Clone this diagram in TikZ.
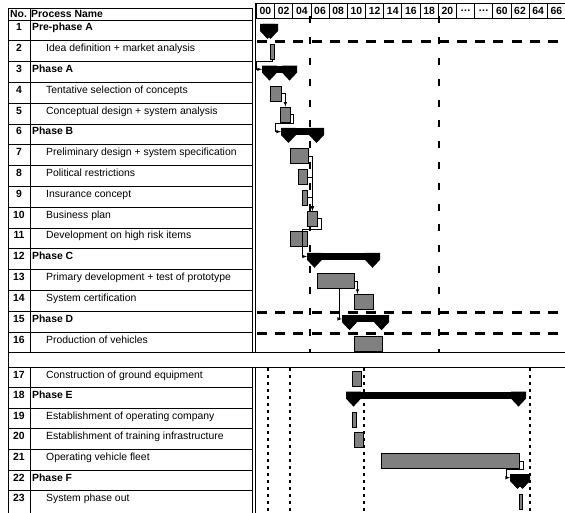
\documentclass[tikz,border=0pt]{standalone}
\usepackage{fontspec}
\setmainfont{Liberation Sans}
\newcommand{\phasebar}[4]{%
  \node[sumbar,minimum width={#3-#2}] (#1) at (#2,#4) {};
  \fill (#2,#4) -- ++(15,0) -- ++(0,7) -- ++(-7.5,8) -- ++(-7.5,-8) -- cycle;
  \fill (#3,#4) -- ++(-15,0) -- ++(0,7) -- ++(7.5,8) -- ++(7.5,-8) -- cycle;
}

\begin{document}
\begin{tikzpicture}[x=1pt,y=-1pt,
  grid/.style={line width=0.9pt},
  num/.style={anchor=base,font=\bfseries,inner sep=0pt},
  phase/.style={anchor=base west,font=\bfseries,inner sep=0pt},
  task/.style={anchor=base west,inner sep=0pt},
  hcell/.style={draw,line width=0.8pt,minimum width=18.18pt,minimum height=15pt,inner sep=0pt,anchor=north west,font=\bfseries},
  bar/.style={draw,fill=gray,line width=0.8pt,minimum height=15pt,inner sep=0pt,anchor=north west},
  sumbar/.style={fill=black,minimum height=7pt,inner sep=0pt,anchor=north west},
  link/.style={line width=0.6pt,-latex},
  limit/.style={line width=2.5pt}]
\fontsize{10.4}{12}\selectfont
\useasboundingbox (0,0) rectangle (565,513);

\draw[grid] (8,8) -- (252.5,8) (8,20) -- (252.5,20) (8,40.8) -- (252.5,40.8) (8,61.6) -- (252.5,61.6)
  (8,82.4) -- (252.5,82.4) (8,103.2) -- (252.5,103.2) (8,124) -- (252.5,124) (8,144.8) -- (252.5,144.8)
  (8,165.6) -- (252.5,165.6) (8,186.4) -- (252.5,186.4) (8,207.2) -- (252.5,207.2) (8,228) -- (252.5,228)
  (8,248.8) -- (252.5,248.8) (8,269.6) -- (252.5,269.6) (8,290.4) -- (252.5,290.4) (8,311.2) -- (252.5,311.2)
  (8,332) -- (252.5,332);
\draw[grid] (8,387.6) -- (252.5,387.6) (8,408.2) -- (252.5,408.2) (8,428.8) -- (252.5,428.8)
  (8,449.4) -- (252.5,449.4) (8,470) -- (252.5,470) (8,490.6) -- (252.5,490.6);
\draw[grid] (8,352.8) -- (565,352.8) (8,367) -- (565,367);
\draw[grid] (8,8) -- (8,513);
\draw[grid] (30,8) -- (30,352.8) (30,367) -- (30,513);
\draw[grid] (252.5,8) -- (252.5,352.8) (252.5,367) -- (252.5,513);
\draw[grid] (255.5,3) -- (255.5,352.8) (255.5,367) -- (255.5,513);

\node[phase] (hno) at (10,18) {No.};
\node[phase] (hname) at (31,18) {Process Name};

\node[hcell] (h00) at (256,3) {00};
\node[hcell] (h02) at (274.18,3) {02};
\node[hcell] (h04) at (292.36,3) {04};
\node[hcell] (h06) at (310.54,3) {06};
\node[hcell] (h08) at (328.72,3) {08};
\node[hcell] (h10) at (346.9,3) {10};
\node[hcell] (h12) at (365.08,3) {12};
\node[hcell] (h14) at (383.26,3) {14};
\node[hcell] (h16) at (401.44,3) {16};
\node[hcell] (h18) at (419.62,3) {18};
\node[hcell] (h20) at (437.8,3) {20};
\node[hcell] (hd1) at (455.98,3) {…};
\node[hcell] (hd2) at (474.16,3) {…};
\node[hcell] (h60) at (492.34,3) {60};
\node[hcell] (h62) at (510.52,3) {62};
\node[hcell] (h64) at (528.7,3) {64};
\node[hcell] (h66) at (546.88,3) {66};

\node[num] (n1) at (19,31) {1};
\node[num] (n2) at (19,51.8) {2};
\node[num] (n3) at (19,72.6) {3};
\node[num] (n4) at (19,93.4) {4};
\node[num] (n5) at (19,114.2) {5};
\node[num] (n6) at (19,135) {6};
\node[num] (n7) at (19,155.8) {7};
\node[num] (n8) at (19,176.6) {8};
\node[num] (n9) at (19,197.4) {9};
\node[num] (n10) at (19,218.2) {10};
\node[num] (n11) at (19,239) {11};
\node[num] (n12) at (19,259.8) {12};
\node[num] (n13) at (19,280.6) {13};
\node[num] (n14) at (19,301.4) {14};
\node[num] (n15) at (19,322.2) {15};
\node[num] (n16) at (19,343) {16};
\node[num] (n17) at (19,378) {17};
\node[num] (n18) at (19,398.6) {18};
\node[num] (n19) at (19,419.2) {19};
\node[num] (n20) at (19,439.8) {20};
\node[num] (n21) at (19,460.4) {21};
\node[num] (n22) at (19,481) {22};
\node[num] (n23) at (19,501.6) {23};

\node[phase] (t1) at (32,31) {Pre-phase A};
\node[task] (t2) at (46,51.8) {Idea definition + market analysis};
\node[phase] (t3) at (32,72.6) {Phase A};
\node[task] (t4) at (46,93.4) {Tentative selection of concepts};
\node[task] (t5) at (46,114.2) {Conceptual design + system analysis};
\node[phase] (t6) at (32,135) {Phase B};
\node[task] (t7) at (46,155.8) {Preliminary design + system specification};
\node[task] (t8) at (46,176.6) {Political restrictions};
\node[task] (t9) at (46,197.4) {Insurance concept};
\node[task] (t10) at (46,218.2) {Business plan};
\node[task] (t11) at (46,239) {Development on high risk items};
\node[phase] (t12) at (32,259.8) {Phase C};
\node[task] (t13) at (46,280.6) {Primary development + test of prototype};
\node[task] (t14) at (46,301.4) {System certification};
\node[phase] (t15) at (32,322.2) {Phase D};
\node[task] (t16) at (46,343) {Production of vehicles};
\node[task] (t17) at (46,378) {Construction of ground equipment};
\node[phase] (t18) at (32,398.6) {Phase E};
\node[task] (t19) at (46,419.2) {Establishment of operating company};
\node[task] (t20) at (46,439.8) {Establishment of training infrastructure};
\node[task] (t21) at (46,460.4) {Operating vehicle fleet};
\node[phase] (t22) at (32,481) {Phase F};
\node[task] (t23) at (46,501.6) {System phase out};

\draw[limit,dash pattern=on 7pt off 13.8pt] (310,16.5) -- (310,352.8);
\draw[limit,dash pattern=on 7pt off 13.8pt] (439,16.5) -- (439,352.8);
\draw[limit,dash pattern=on 10pt off 8.18pt] (257,41.5) -- (565,41.5);
\draw[limit,dash pattern=on 10pt off 8.18pt] (257,312.5) -- (565,312.5);
\draw[limit,dash pattern=on 10pt off 8.18pt] (257,333.5) -- (565,333.5);
\draw[limit,dash pattern=on 3pt off 4pt] (268,368) -- (268,513);
\draw[limit,dash pattern=on 3pt off 4pt] (290,368) -- (290,513);
\draw[limit,dash pattern=on 3pt off 4pt] (364,368) -- (364,513);
\draw[limit,dash pattern=on 3pt off 4pt] (530,368) -- (530,513);

\node[bar,minimum width=4pt] (b2) at (270,44.3) {};
\node[bar,minimum width=11pt] (b4) at (270,85.9) {};
\node[bar,minimum width=10pt] (b5) at (280,106.7) {};
\node[bar,minimum width=18pt] (b7) at (290,148.3) {};
\node[bar,minimum width=9pt] (b8) at (298,169.1) {};
\node[bar,minimum width=5pt] (b9) at (302,189.9) {};
\node[bar,minimum width=10pt] (b10) at (307,210.7) {};
\node[bar,minimum width=17pt] (b11) at (290,231.5) {};
\node[bar,minimum width=37pt] (b13) at (317,273.1) {};
\node[bar,minimum width=19pt] (b14) at (354,293.9) {};
\node[bar,minimum width=28pt] (b16) at (354,335.5) {};
\node[bar,minimum width=9pt] (b17) at (352,370.5) {};
\node[bar,minimum width=4pt] (b19) at (352,411.7) {};
\node[bar,minimum width=9pt] (b20) at (354,432.3) {};
\node[bar,minimum width=138pt] (b21) at (381,452.9) {};
\node[bar,minimum width=3pt] (b23) at (519,494.1) {};

\phasebar{p1}{260}{278}{24}
\phasebar{p3}{262}{297}{65.6}
\phasebar{p6}{281}{324}{128}
\phasebar{p12}{307}{380}{252.8}
\phasebar{p15}{342}{389}{315.2}
\phasebar{p18}{346}{526}{391.6}
\phasebar{p22}{510}{530}{474}

\coordinate (c2) at (256,61.5);
\coordinate (c5) at (275,123.5);
\coordinate (c10) at (302,229.5);
\coordinate (c13) at (357.5,293.9);
\coordinate (d13) at (339,288.1);
\coordinate (c21) at (506,469.5);
\draw[link] (b2.south) |- (c2) |- (p3.west);
\draw[link] (b4.east) -| (b5.north);
\draw[link] (b5.east) -- ++(2,0) |- (c5) |- (p6.west);
\draw[link] (b7.east) -| (b10.north);
\draw[link] (b8.east) -| (b10.north);
\draw[link] (b9.east) -| (b10.north);
\draw[link] (b10.east) -- ++(3,0) |- (c10) |- (p12.west);
\draw[link] (b13.east) -| (c13);
\draw[link] (d13) |- (p15.west);
\draw[link] (b21.east) -- ++(3,0) |- (c21) |- (p22.west);
\end{tikzpicture}
\end{document}
